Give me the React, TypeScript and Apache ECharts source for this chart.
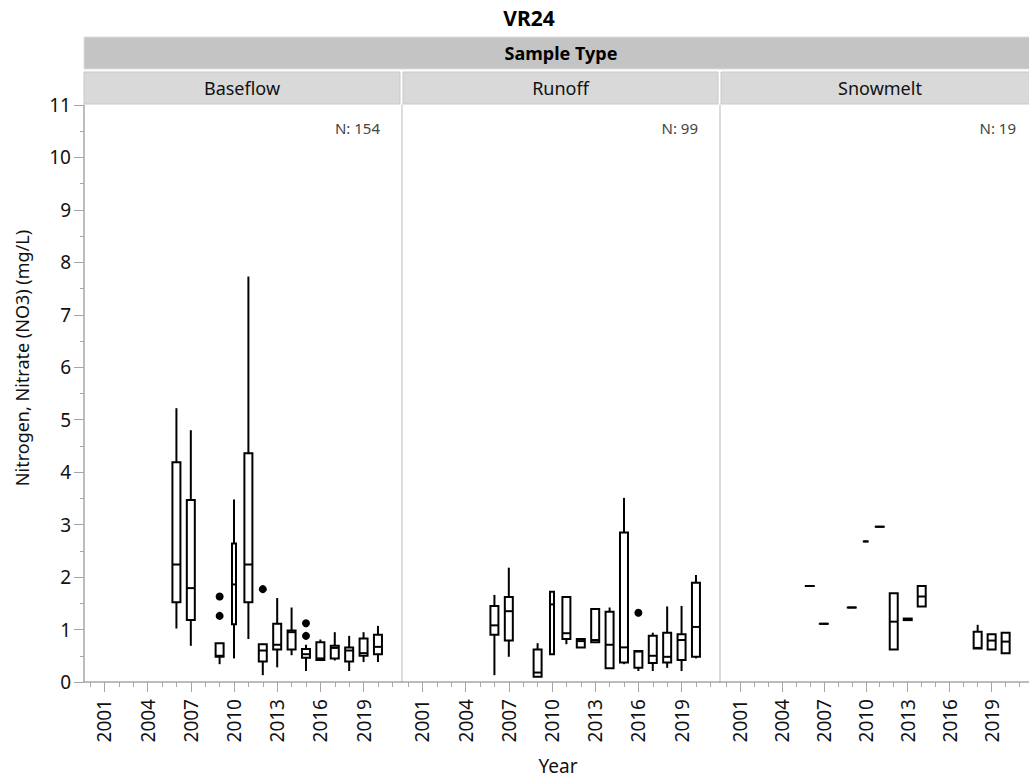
import React, { useEffect, useRef } from "react";
import * as echarts from "echarts";

// ---------- data ----------
const panelNames = ["Baseflow", "Runoff", "Snowmelt"];
const panelCounts = [154, 99, 19];
const tickYears = [2000, 2001, 2002, 2003, 2004, 2005, 2006, 2007, 2008, 2009, 2010, 2011, 2012, 2013, 2014, 2015, 2016, 2017, 2018, 2019, 2020, 2021];
const labelYears = [2001, 2004, 2007, 2010, 2013, 2016, 2019];

// [year, lower whisker, Q1, median, Q3, upper whisker]
const baseflowBoxes = [
  [2006, 1.02, 1.52, 2.24, 4.19, 5.22],
  [2007, 0.69, 1.18, 1.79, 3.47, 4.8],
  [2009, 0.34, 0.48, 0.5, 0.74, 0.74],
  [2010, 0.45, 1.1, 1.86, 2.64, 3.48],
  [2011, 0.82, 1.52, 2.24, 4.36, 7.73],
  [2012, 0.13, 0.39, 0.6, 0.72, 0.73],
  [2013, 0.28, 0.62, 0.71, 1.11, 1.6],
  [2014, 0.51, 0.62, 0.95, 0.98, 1.42],
  [2015, 0.21, 0.46, 0.53, 0.63, 0.71],
  [2016, 0.42, 0.42, 0.45, 0.76, 0.81],
  [2017, 0.41, 0.45, 0.65, 0.69, 0.95],
  [2018, 0.21, 0.39, 0.6, 0.66, 0.88],
  [2019, 0.38, 0.5, 0.55, 0.83, 0.95],
  [2020, 0.38, 0.53, 0.67, 0.9, 1.07],
];
const baseflowOutliers = [
  [2009, 1.63],
  [2009, 1.26],
  [2012, 1.77],
  [2015, 1.12],
  [2015, 0.88],
];

const runoffBoxes = [
  [2006, 0.13, 0.9, 1.08, 1.45, 1.66],
  [2007, 0.48, 0.79, 1.35, 1.62, 2.18],
  [2009, 0.1, 0.1, 0.18, 0.62, 0.74],
  [2010, 0.53, 0.53, 1.48, 1.72, 1.73],
  [2011, 0.72, 0.82, 0.93, 1.62, 1.62],
  [2012, 0.66, 0.66, 0.78, 0.82, 0.82],
  [2013, 0.76, 0.76, 0.8, 1.39, 1.39],
  [2014, 0.25, 0.26, 0.71, 1.34, 1.42],
  [2015, 0.34, 0.37, 0.66, 2.85, 3.51],
  [2016, 0.21, 0.27, 0.58, 0.59, 0.59],
  [2017, 0.21, 0.36, 0.5, 0.88, 0.94],
  [2018, 0.27, 0.37, 0.48, 0.94, 1.44],
  [2019, 0.21, 0.42, 0.8, 0.91, 1.45],
  [2020, 0.45, 0.48, 1.05, 1.89, 2.04],
];
const runoffOutliers = [[2016, 1.32]];

const snowmeltBoxes = [
  [2006, 1.83, 1.83, 1.83, 1.83, 1.83],
  [2007, 1.11, 1.11, 1.11, 1.11, 1.11],
  [2009, 1.42, 1.42, 1.42, 1.42, 1.42],
  [2010, 2.68, 2.68, 2.68, 2.68, 2.68],
  [2011, 2.96, 2.96, 2.96, 2.96, 2.96],
  [2012, 0.62, 0.62, 1.15, 1.69, 1.69],
  [2013, 1.18, 1.18, 1.2, 1.21, 1.21],
  [2014, 1.44, 1.44, 1.63, 1.83, 1.83],
  [2018, 0.64, 0.64, 0.65, 0.96, 1.09],
  [2019, 0.62, 0.62, 0.79, 0.91, 0.91],
  [2020, 0.55, 0.55, 0.77, 0.94, 0.94],
];
const snowmeltOutliers: number[][] = [];

const panelBoxes = [baseflowBoxes, runoffBoxes, snowmeltBoxes];
const panelOutliers = [baseflowOutliers, runoffOutliers, snowmeltOutliers];

// ---------- layout / style ----------
const FONT = '"Noto Sans", sans-serif';
const X_MIN = 1999.58;
const X_MAX = 2021.67;
const GRID_LEFT = 84;
const GRID_W = 318;
const GRID_TOP = 105;
const GRID_H = 577;
const BOX_W = 8;
const NARROW_W = 4;
const narrowYears = [2010];
const AXIS_GRAY = "#a6a6a6";

function renderBox(params: any, api: any) {
  const x = api.value(0);
  const lo = api.coord([x, api.value(1)]);
  const q1 = api.coord([x, api.value(2)]);
  const md = api.coord([x, api.value(3)]);
  const q3 = api.coord([x, api.value(4)]);
  const hi = api.coord([x, api.value(5)]);
  const cx = lo[0];
  const w = narrowYears.indexOf(x) >= 0 ? NARROW_W : BOX_W;
  const st = { stroke: "#000", lineWidth: 2, fill: "none" };
  const children: any[] = [];
  if (hi[1] < q3[1] - 0.5) {
    children.push({ type: "line", shape: { x1: cx, y1: hi[1], x2: cx, y2: q3[1] }, style: st });
  }
  if (lo[1] > q1[1] + 0.5) {
    children.push({ type: "line", shape: { x1: cx, y1: q1[1], x2: cx, y2: lo[1] }, style: st });
  }
  children.push({
    type: "rect",
    shape: { x: cx - w / 2, y: q3[1], width: w, height: Math.max(q1[1] - q3[1], 0.01) },
    style: { stroke: "#000", lineWidth: 2, fill: "#fff" },
  });
  children.push({
    type: "line",
    shape: { x1: cx - w / 2, y1: md[1], x2: cx + w / 2, y2: md[1] },
    style: st,
  });
  return { type: "group", children };
}

export default function App() {
  const ref = useRef<HTMLDivElement>(null);
  useEffect(() => {
    const chart = echarts.init(ref.current as HTMLDivElement, null, { renderer: "svg" });

    const grids = panelNames.map((_, i) => ({
      left: GRID_LEFT + GRID_W * i,
      top: GRID_TOP,
      width: GRID_W,
      height: GRID_H,
      containLabel: false,
    }));

    const xAxes: any[] = [];
    panelNames.forEach((_, i) => {
      xAxes.push({
        gridIndex: i,
        type: "value",
        min: X_MIN,
        max: X_MAX,
        position: "bottom",
        axisLine: { show: true, lineStyle: { color: AXIS_GRAY, width: 1.5 } },
        axisTick: { show: true, customValues: tickYears, length: 5, lineStyle: { color: AXIS_GRAY } },
        axisLabel: { show: false },
        splitLine: { show: false },
      });
      xAxes.push({
        gridIndex: i,
        type: "value",
        min: X_MIN,
        max: X_MAX,
        position: "bottom",
        axisLine: { show: false },
        axisTick: { show: true, customValues: labelYears, length: 10, lineStyle: { color: AXIS_GRAY } },
        axisLabel: {
          show: true,
          customValues: labelYears,
          rotate: 90,
          margin: 17,
          fontSize: 19,
          fontFamily: FONT,
          color: "#111",
          formatter: (v: number) => String(Math.round(v)),
        },
        splitLine: { show: false },
      });
    });

    const yAxes = panelNames.map((_, i) => ({
      gridIndex: i,
      type: "value",
      min: 0,
      max: 11,
      interval: 1,
      axisLine: { show: true, lineStyle: { color: i === 0 ? AXIS_GRAY : "#d0d0d0", width: 1.5 } },
      axisTick: { show: i === 0, length: 10, lineStyle: { color: AXIS_GRAY } },
      minorTick: { show: i === 0, splitNumber: 2, length: 4, lineStyle: { color: AXIS_GRAY } },
      axisLabel: { show: i === 0, fontSize: 19, fontFamily: FONT, color: "#111", margin: 13 },
      splitLine: { show: false },
      minorSplitLine: { show: false },
    }));

    const series: any[] = [];
    panelNames.forEach((_, i) => {
      series.push({
        type: "custom",
        coordinateSystem: "cartesian2d",
        xAxisIndex: 2 * i,
        yAxisIndex: i,
        renderItem: renderBox,
        encode: { x: 0, y: [1, 2, 3, 4, 5] },
        data: panelBoxes[i],
        silent: true,
        z: 2,
      });
      if (panelOutliers[i].length) {
        series.push({
          type: "scatter",
          xAxisIndex: 2 * i,
          yAxisIndex: i,
          data: panelOutliers[i],
          symbol: "circle",
          symbolSize: 8,
          itemStyle: { color: "#000", opacity: 1 },
          silent: true,
          z: 3,
        });
      }
    });

    const txt = (text: string, x: number, y: number, size: number, opts: any = {}) => ({
      type: "text",
      x,
      y,
      rotation: opts.rotation || 0,
      z: 10,
      style: {
        text,
        fill: opts.color || "#111",
        font: `${opts.bold ? "bold " : ""}${size}px ${FONT}`,
        fontSize: size,
        fontWeight: opts.bold ? "bold" : "normal",
        fontFamily: FONT,
        align: opts.align || "center",
        textAlign: opts.align || "center",
        verticalAlign: "middle",
        textVerticalAlign: "middle",
      },
    });

    const headerLefts = [84, 403, 721];
    const headerWidths = [316, 315, 320];
    const graphics: any[] = [
      txt("VR24", 529, 18, 21, { bold: true, color: "#000" }),
      {
        type: "rect",
        shape: { x: 84, y: 37, width: 960, height: 32 },
        style: { fill: "#c4c4c4", stroke: "#dedede", lineWidth: 1 },
        z: 5,
      },
      txt("Sample Type", 561, 53, 18, { bold: true, color: "#000" }),
      txt("Nitrogen, Nitrate (NO3) (mg/L)", 22, 358, 18, { rotation: Math.PI / 2 }),
      txt("Year", 558, 766, 19),
    ];
    panelNames.forEach((name, i) => {
      graphics.push({
        type: "rect",
        shape: { x: headerLefts[i], y: 72, width: headerWidths[i], height: 32 },
        style: { fill: "#d9d9d9", stroke: "#c9c9c9", lineWidth: 1 },
        z: 5,
      });
      graphics.push(txt(name, headerLefts[i] + (i === 2 ? 159 : headerWidths[i] / 2), 88, 18));
      graphics.push(
        txt("N: " + panelCounts[i], GRID_LEFT + GRID_W * (i + 1) - 22, 128, 15, { align: "right", color: "#444" })
      );
    });

    chart.setOption({
      animation: false,
      backgroundColor: "#fff",
      grid: grids,
      xAxis: xAxes,
      yAxis: yAxes,
      series,
      graphic: { elements: graphics },
    });
    return () => chart.dispose();
  }, []);
  return (
    <div
      ref={ref}
      style={{ position: "fixed", left: 0, top: 0, width: 1029, height: 778, background: "#fff" }}
    />
  );
}
